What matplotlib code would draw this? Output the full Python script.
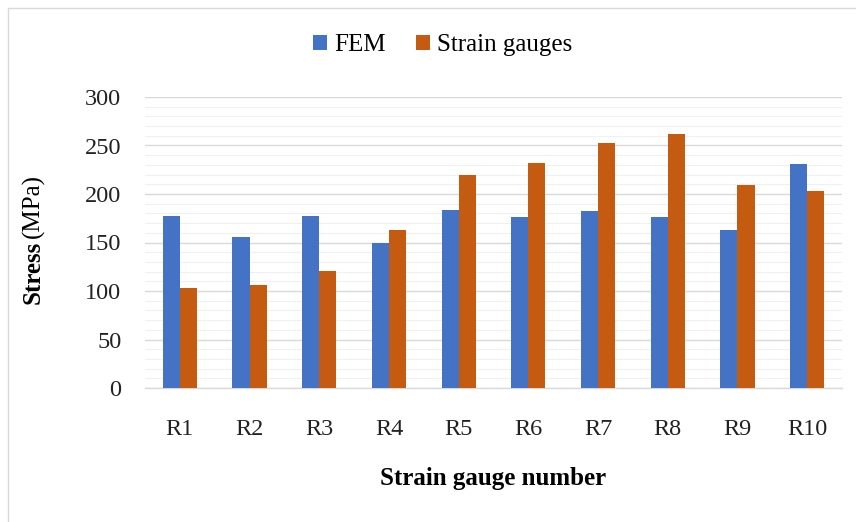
import numpy as np
import matplotlib.pyplot as plt
from matplotlib.patches import Rectangle
from matplotlib.ticker import MultipleLocator

gauges = ["R1", "R2", "R3", "R4", "R5", "R6", "R7", "R8", "R9", "R10"]
fem = [177, 156, 177, 149, 183, 176, 182, 176, 163, 231]
strain_gauges = [103, 106, 121, 163, 220, 232, 253, 262, 209, 203]

plt.rcParams["font.family"] = ["Liberation Serif", "DejaVu Serif"]

fig = plt.figure(figsize=(8.56, 5.22), dpi=100)
ax = fig.add_axes([145 / 856, 1 - 388 / 522, 697 / 856, 291 / 522])

# light frame round the chart
fig.patches.append(Rectangle((8 / 856, -0.1), 1.2, 1 - 8 / 522 + 0.1,
                             transform=fig.transFigure, fill=False,
                             edgecolor="#d9d9d9", linewidth=1.0))

x = np.arange(len(gauges))
w = 0.245
ax.bar(x - w / 2, fem, w, color="#4472C4", label="FEM", zorder=3)
ax.bar(x + w / 2, strain_gauges, w, color="#C55A11", label="Strain gauges", zorder=3)

ax.set_xlim(-0.5, len(gauges) - 0.5)
ax.set_ylim(0, 300)
ax.yaxis.set_major_locator(MultipleLocator(50))
ax.yaxis.set_minor_locator(MultipleLocator(10))
ax.grid(axis="y", which="major", color="#d9d9d9", linewidth=1.0, zorder=0)
ax.grid(axis="y", which="minor", color="#f0f0f0", linewidth=0.8, zorder=0)

for s in ["top", "right", "left"]:
    ax.spines[s].set_visible(False)
ax.spines["bottom"].set_color("#d9d9d9")
ax.spines["bottom"].set_linewidth(1.0)

ax.set_xticks(x)
ax.set_xticklabels(gauges)
ax.tick_params(axis="both", which="both", length=0, labelsize=17.5, colors="#222222")
ax.tick_params(axis="x", pad=22)
ax.tick_params(axis="y", pad=17)

ax.set_xlabel("Strain gauge number", fontsize=18, fontweight="bold", labelpad=20)

# y label: "Stress" bold, "(MPa)" regular
ylab = fig.text(33 / 856, 1 - 272 / 522, "Stress", rotation=90, fontsize=18,
                fontweight="bold", ha="center", va="center")
ax.annotate("(MPa)", xy=(0.5, 1), xycoords=ylab, xytext=(0, 2),
            textcoords="offset points", rotation=90, fontsize=18,
            ha="center", va="bottom", annotation_clip=False)

ax.legend(loc="center", bbox_to_anchor=(443 / 856, 1 - 45 / 522),
          bbox_transform=fig.transFigure, ncol=2, frameon=False,
          fontsize=18, handlelength=0.55, handleheight=0.55,
          handletextpad=0.3, columnspacing=1.2)

fig.savefig("out.png", dpi=100)
